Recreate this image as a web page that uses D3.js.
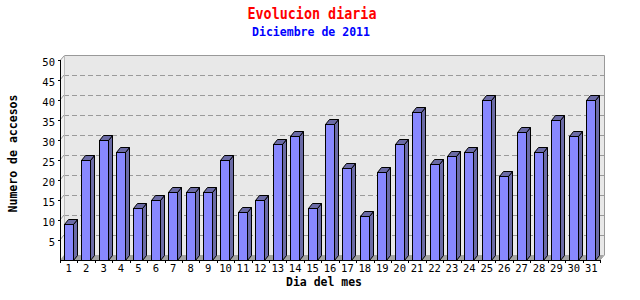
<!DOCTYPE html>
<html><head><meta charset="utf-8">
<script src="https://cdn.jsdelivr.net/npm/d3@7"></script>
<style>body{margin:0;background:#fff}svg{display:block}</style>
</head><body>
<svg id="c" width="640" height="300"></svg>
<script>
const days = d3.range(1, 32).map(String);
const visits = [9,25,30,27,13,15,17,17,17,25,12,15,29,31,13,34,23,11,22,29,37,24,26,27,40,21,32,27,35,31,40];
const yTicks = [5,10,15,20,25,30,35,40,45,50];
const gridValues = [5,10,15,20,25,30,35,40,45];
const title = "Evolucion diaria";
const subtitle = "Diciembre de 2011";
const xTitle = "Dia del mes";
const yTitle = "Numero de accesos";

const svg = d3.select("#c");
const L = 60, R = 600, T = 60, B = 260, DX = 4, DY = 5, BW = 9;
const x = d3.scaleBand().domain(days).range([L, R]).padding(0);
const y = d3.scaleLinear().domain([0, 50]).range([B, T]);
const mono = "'DejaVu Sans Mono', monospace";

// left side wall
svg.append("polygon").attr("points", [[L,y(50)],[L+DX,y(50)-DY],[L+DX,B-DY],[L,B]].join(" "))
  .attr("fill", "#f2f2f2");
// back wall
svg.append("rect").attr("x", L+DX).attr("y", y(50)-DY).attr("width", R-L).attr("height", B-y(50))
  .attr("fill", "#e8e8e8");
// floor
svg.append("polygon").attr("points", [[L,B],[L+DX,B-DY],[R+DX,B-DY],[R,B]].join(" "))
  .attr("fill", "#a4a4a4");
// grid
gridValues.forEach(v => {
  svg.append("line").attr("x1", L+DX).attr("x2", R+DX).attr("y1", y(v)-DY+0.5).attr("y2", y(v)-DY+0.5)
    .attr("stroke", "#9a9a9a").attr("stroke-dasharray", "5,3");
  svg.append("line").attr("x1", L).attr("x2", L+DX).attr("y1", y(v)).attr("y2", y(v)-DY)
    .attr("stroke", "#9a9a9a");
});
// wall border
svg.append("path").attr("d", `M${L+0.5},${y(50)} L${L+DX+0.5},${y(50)-DY+0.5} H${R+DX+0.5} V${B-DY} L${R},${B}`)
  .attr("fill", "none").attr("stroke", "#999");
svg.append("line").attr("x1", L+DX+0.5).attr("x2", L+DX+0.5).attr("y1", y(50)-DY).attr("y2", B-DY)
  .attr("stroke", "#bbb");

// bars
const g = svg.append("g");
days.forEach((d, i) => {
  const v = visits[i];
  const x0 = Math.round(x(d) + (x.bandwidth() - BW) / 2 - 0.5) + 0.5;
  const y0 = Math.round(y(v)) + 0.5;
  const yb = B + 0.5;
  g.append("polygon").attr("points", [[x0+BW,y0],[x0+BW+DX,y0-DY],[x0+BW+DX,yb-DY],[x0+BW,yb]].join(" "))
    .attr("fill", "#6b6ba6").attr("stroke", "#000");
  g.append("polygon").attr("points", [[x0,y0],[x0+DX,y0-DY],[x0+BW+DX,y0-DY],[x0+BW,y0]].join(" "))
    .attr("fill", "#6b6ba6").attr("stroke", "#000");
  g.append("rect").attr("x", x0).attr("y", y0).attr("width", BW).attr("height", yb - y0)
    .attr("fill", "#8888ff").attr("stroke", "#000");
});

// y axis
svg.append("line").attr("x1", L+0.5).attr("x2", L+0.5).attr("y1", T).attr("y2", B+0.5).attr("stroke", "#000");
yTicks.forEach(v => {
  svg.append("line").attr("x1", L-2).attr("x2", L).attr("y1", y(v)+0.5).attr("y2", y(v)+0.5).attr("stroke", "#000");
  svg.append("text").attr("x", 55).attr("y", y(v)+6).attr("text-anchor", "end")
    .attr("font-family", mono).attr("font-size", 10.5).text(v);
});
// x axis
svg.append("line").attr("x1", L).attr("x2", R+1).attr("y1", B+0.5).attr("y2", B+0.5).attr("stroke", "#000");
days.concat(["end"]).forEach((d, i) => {
  const xx = Math.round(L + i * x.step()) + 0.5;
  svg.append("line").attr("x1", xx).attr("x2", xx).attr("y1", B).attr("y2", B+3).attr("stroke", "#000");
});
days.forEach(d => {
  svg.append("text").attr("x", x(d) + x.bandwidth()/2).attr("y", 272).attr("text-anchor", "middle")
    .attr("font-family", mono).attr("font-size", 10.5).text(d);
});

// titles
svg.append("text").attr("x", 312).attr("y", 19).attr("text-anchor", "middle").attr("fill", "#ff0000")
  .attr("font-family", mono).attr("font-weight", "bold").attr("font-size", 15)
  .attr("textLength", 129).attr("lengthAdjust", "spacingAndGlyphs").text(title);
svg.append("text").attr("x", 311).attr("y", 36).attr("text-anchor", "middle").attr("fill", "#0000ff")
  .attr("font-family", mono).attr("font-weight", "bold").attr("font-size", 12)
  .attr("textLength", 118).attr("lengthAdjust", "spacingAndGlyphs").text(subtitle);
svg.append("text").attr("x", 324).attr("y", 286).attr("text-anchor", "middle").attr("fill", "#000")
  .attr("font-family", mono).attr("font-weight", "bold").attr("font-size", 12)
  .attr("textLength", 76).attr("lengthAdjust", "spacingAndGlyphs").text(xTitle);
svg.append("text").attr("transform", "translate(17,153.5) rotate(-90)").attr("text-anchor", "middle")
  .attr("font-family", mono).attr("font-weight", "bold").attr("font-size", 12)
  .attr("textLength", 118).attr("lengthAdjust", "spacingAndGlyphs").text(yTitle);
</script>
</body></html>
